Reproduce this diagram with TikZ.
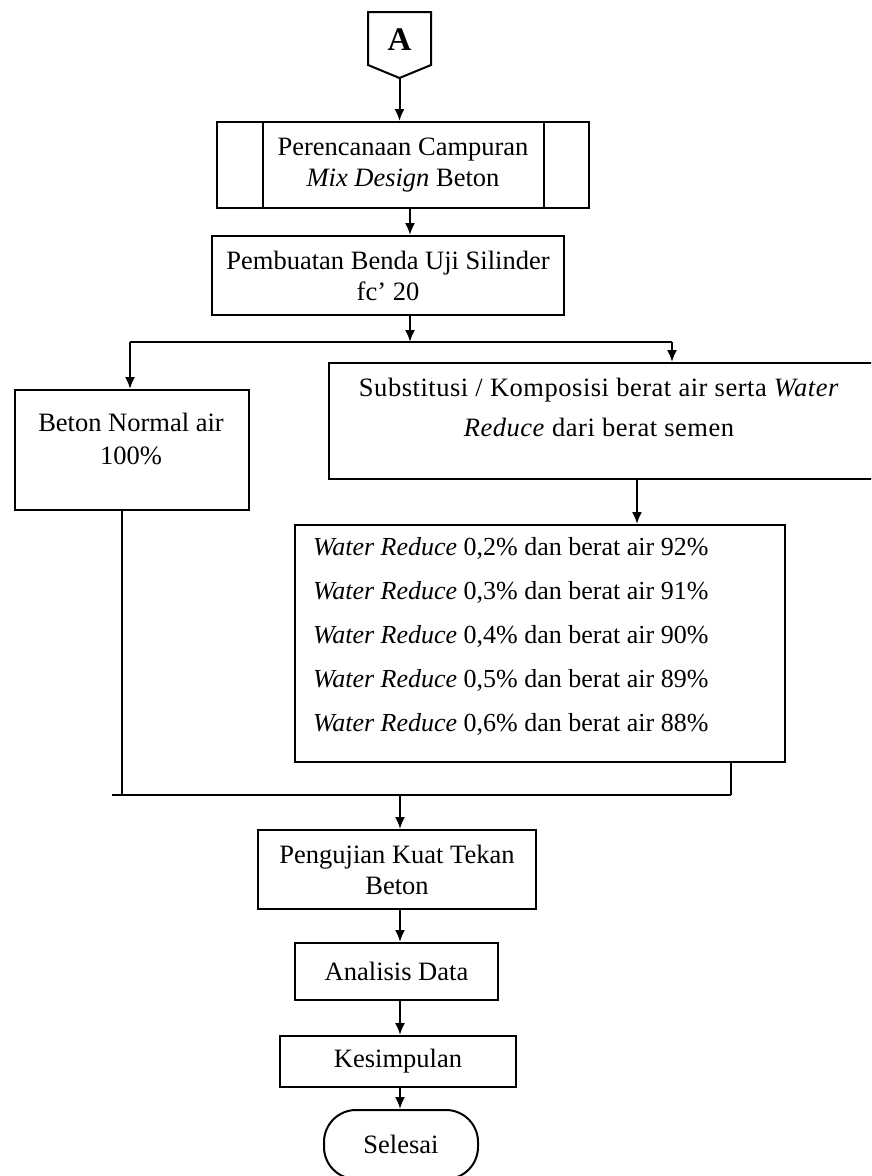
\documentclass[tikz,border=0pt]{standalone}
\usepackage{fontspec}
\setmainfont{Liberation Serif}
\usetikzlibrary{arrows.meta}
\begin{document}
\begin{tikzpicture}[x=1pt,y=-1pt,
  line width=2pt,
  box/.style={draw, rectangle, inner sep=0pt, anchor=north west, align=center,
    font=\fontsize{26.5}{31}\selectfont},
  txt/.style={inner sep=0pt, align=center, font=\fontsize{26.5}{33}\selectfont},
  arr/.style={-{Latex[length=12pt,width=10pt]}},
]
\useasboundingbox (0,0) rectangle (871,1176);
\clip (0,0) rectangle (871,1176);

% column coordinates
\coordinate (c1) at (410,0);
\coordinate (c2) at (637,0);
\coordinate (c5) at (400,0);

% off-page connector A
\draw (368,12) -- (431,12) -- (431,65) -- (399.5,78) -- (368,65) -- cycle;
\node[inner sep=0pt, font=\fontsize{33}{33}\bfseries\selectfont] (A) at (399.5,40) {A};
\coordinate (Abot) at (399.5,78);

% predefined process
\node[box, minimum width=372pt, minimum height=86pt] (pd) at (216,121)
  {Perencanaan Campuran\\\textit{Mix Design} Beton};
\draw ([xshift=47pt]pd.north west) -- ([xshift=47pt]pd.south west);
\draw ([xshift=-46pt]pd.north east) -- ([xshift=-46pt]pd.south east);

% pembuatan
\node[box, minimum width=352pt, minimum height=79pt] (pb) at (211,235)
  {Pembuatan Benda Uji Silinder\\fc’ 20};

% left / right branches
\node[box, minimum width=234pt, minimum height=120pt] (bn) at (14,389) {};
\node[txt] (bnt) at (131,439) {Beton Normal air\\100\%};

\node[box, minimum width=547pt, minimum height=116pt] (sub) at (328,362) {};
\node[txt, font=\fontsize{26.5}{40}\selectfont] (subt) at (599,407)
  {\addfontfeature{LetterSpace=2}Substitusi / Komposisi berat air serta \textit{Water}\\\addfontfeature{LetterSpace=2}\textit{Reduce} dari berat semen};

\node[box, minimum width=490pt, minimum height=237pt] (wr) at (294,524) {};
\node[txt, align=left, anchor=west, font=\fontsize{26}{44}\selectfont] (wrt) at (312,636)
  {\textit{Water Reduce} 0,2\% dan berat air 92\%\\
   \textit{Water Reduce} 0,3\% dan berat air 91\%\\
   \textit{Water Reduce} 0,4\% dan berat air 90\%\\
   \textit{Water Reduce} 0,5\% dan berat air 89\%\\
   \textit{Water Reduce} 0,6\% dan berat air 88\%};

% lower chain
\node[box, minimum width=278pt, minimum height=79pt] (pk) at (257,829)
  {Pengujian Kuat Tekan\\Beton};
\node[box, minimum width=203pt, minimum height=57pt] (an) at (294,942) {Analisis Data};
\node[box, minimum width=236pt, minimum height=51pt] (ks) at (279,1035) {Kesimpulan};
\node[box, rounded corners=32pt, minimum width=154pt, minimum height=69pt] (end) at (323,1109) {Selesai};

% junction coordinates
\coordinate (j1) at (410,342);
\coordinate (jL) at (130,342);
\coordinate (jR) at (672,342);
\coordinate (jB0) at (112,795);
\coordinate (jBl) at (122,795);
\coordinate (jB1) at (731,795);
\coordinate (jB) at (400,795);

% connectors
\draw[arr] (Abot) -- (Abot |- pd.north);
\draw[arr] (pd.south -| c1) -- (pb.north -| c1);
\draw[arr] (pb.south -| c1) -- (j1);
\draw (jL) -- (jR);
\draw[arr] (jL) -- (jL |- bn.north);
\draw[arr] (jR) -- (jR |- sub.north);
\draw[arr] (sub.south -| c2) -- (wr.north -| c2);
\draw (bn.south -| jBl) -- (jBl);
\draw (wr.south -| jB1) -- (jB1);
\draw (jB0) -- (jB1);
\draw[arr] (jB) -- (jB |- pk.north);
\draw[arr] (pk.south -| c5) -- (an.north -| c5);
\draw[arr] (an.south -| c5) -- (ks.north -| c5);
\draw[arr] (ks.south -| c5) -- (end.north -| c5);
\end{tikzpicture}
\end{document}
